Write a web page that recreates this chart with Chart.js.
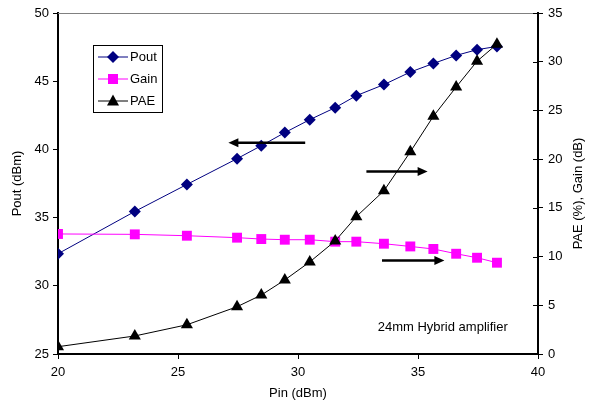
<!DOCTYPE html>
<html>
<head>
<meta charset="utf-8">
<script src="https://cdn.jsdelivr.net/npm/chart.js@4/dist/chart.umd.min.js"></script>
<style>
  body { margin: 0; background: #fff; }
  #wrap { width: 591px; height: 403px; }
</style>
</head>
<body>
<div id="wrap"><canvas id="ampChart" width="591" height="403"></canvas></div>
<script>
// Input power (dBm), shared by all three series
const pinValues = [20, 23.2, 25.37, 27.46, 28.47, 29.45, 30.49, 31.55, 32.43, 33.58, 34.68, 35.64, 36.59, 37.46, 38.29];
const poutValues = [32.35, 35.45, 37.43, 39.32, 40.27, 41.23, 42.18, 43.06, 43.94, 44.75, 45.67, 46.3, 46.89, 47.31, 47.55];
const gainValues = [12.32, 12.28, 12.14, 11.94, 11.8, 11.73, 11.73, 11.53, 11.53, 11.32, 11.04, 10.78, 10.29, 9.88, 9.37];
const paeValues = [0.75, 1.85, 3.0, 4.85, 6.05, 7.6, 9.45, 11.6, 14.1, 16.75, 20.75, 24.4, 27.4, 30.05, 31.8];

const FONT = "'Liberation Sans', Arial, sans-serif";
const rightTitle = "PAE (%), Gain (dB)";

function toPoints(ys) {
  return pinValues.map((x, i) => ({ x: x, y: ys[i] }));
}

// arrows point at the axis each curve belongs to (data units)
const arrows = [
  { from: 30.3, to: 27.1, y: 40.48, axis: "y" },
  { from: 32.85, to: 35.4, y: 18.74, axis: "y1" },
  { from: 33.5, to: 36.1, y: 9.6, axis: "y1" },
];
const note = { text: "24mm Hybrid amplifier", x: 33.32, y: 2.73 };

const extras = {
  id: "extras",
  afterDraw(chart) {
    const ctx = chart.ctx;
    const area = chart.chartArea;
    const xs = chart.scales.x;
    ctx.save();

    // gray top edge of plot
    ctx.strokeStyle = "#808080";
    ctx.lineWidth = 1;
    ctx.beginPath();
    ctx.moveTo(area.left, Math.round(area.top) + 0.5);
    ctx.lineTo(area.right, Math.round(area.top) + 0.5);
    ctx.stroke();

    // inner half of right axis tick marks
    const y1 = chart.scales.y1;
    ctx.strokeStyle = "#000";
    y1.ticks.forEach((t) => {
      const py = Math.round(y1.getPixelForValue(t.value)) + 0.5;
      ctx.beginPath();
      ctx.moveTo(area.right - 5, py);
      ctx.lineTo(area.right, py);
      ctx.stroke();
    });

    // right axis title, reading bottom to top
    ctx.fillStyle = "#000";
    ctx.font = "13px " + FONT;
    ctx.textAlign = "center";
    ctx.textBaseline = "middle";
    ctx.save();
    ctx.translate(578, (area.top + area.bottom) / 2 + 10);
    ctx.rotate(-Math.PI / 2);
    ctx.fillText(rightTitle, 0, 0);
    ctx.restore();

    // arrows
    ctx.lineWidth = 2.5;
    arrows.forEach((a) => {
      const py = chart.scales[a.axis].getPixelForValue(a.y);
      const x0 = xs.getPixelForValue(a.from);
      const x1 = xs.getPixelForValue(a.to);
      const dir = x1 > x0 ? 1 : -1;
      ctx.beginPath();
      ctx.moveTo(x0, py);
      ctx.lineTo(x1 - dir * 8, py);
      ctx.stroke();
      ctx.beginPath();
      ctx.moveTo(x1, py);
      ctx.lineTo(x1 - dir * 10, py - 4.5);
      ctx.lineTo(x1 - dir * 10, py + 4.5);
      ctx.closePath();
      ctx.fill();
    });

    // note text
    ctx.textAlign = "left";
    ctx.fillText(note.text, xs.getPixelForValue(note.x), y1.getPixelForValue(note.y));

    // legend box
    const lx = 93, ly = 45, lw = 69, lh = 67;
    ctx.fillStyle = "#fff";
    ctx.fillRect(lx, ly, lw, lh);
    ctx.strokeStyle = "#000";
    ctx.lineWidth = 1;
    ctx.strokeRect(lx + 0.5, ly + 0.5, lw, lh);
    chart.data.datasets.forEach((ds, i) => {
      const ry = ly + 12 + i * 22;
      ctx.strokeStyle = ds.borderColor;
      ctx.lineWidth = 1;
      ctx.beginPath();
      ctx.moveTo(lx + 5, ry);
      ctx.lineTo(lx + 35, ry);
      ctx.stroke();
      ctx.fillStyle = ds.pointBackgroundColor;
      ctx.beginPath();
      const cx = lx + 20;
      if (ds.pointStyle === "rectRot") {
        ctx.moveTo(cx - 6, ry); ctx.lineTo(cx, ry - 6); ctx.lineTo(cx + 6, ry); ctx.lineTo(cx, ry + 6);
      } else if (ds.pointStyle === "rect") {
        ctx.rect(cx - 5, ry - 5, 10, 10);
      } else {
        ctx.moveTo(cx, ry - 6.5); ctx.lineTo(cx + 6, ry + 4.5); ctx.lineTo(cx - 6, ry + 4.5);
      }
      ctx.closePath();
      ctx.fill();
      ctx.fillStyle = "#000";
      ctx.textAlign = "left";
      ctx.fillText(ds.label, lx + 37, ry);
    });
    ctx.restore();
  },
};

const tickFont = { family: FONT, size: 13 };

new Chart(document.getElementById("ampChart").getContext("2d"), {
  type: "line",
  data: {
    datasets: [
      {
        label: "Pout",
        data: toPoints(poutValues),
        yAxisID: "y",
        borderColor: "#000080",
        borderWidth: 1,
        pointStyle: "rectRot",
        pointRadius: 6,
        pointBorderWidth: 0,
        pointBackgroundColor: "#000080",
        order: 2,
      },
      {
        label: "Gain",
        data: toPoints(gainValues),
        yAxisID: "y1",
        borderColor: "#ff00ff",
        borderWidth: 1,
        pointStyle: "rect",
        pointRadius: 7,
        pointBorderWidth: 0,
        pointBackgroundColor: "#ff00ff",
        order: 1,
      },
      {
        label: "PAE",
        data: toPoints(paeValues),
        yAxisID: "y1",
        borderColor: "#000000",
        borderWidth: 1,
        pointStyle: "triangle",
        pointRadius: 7,
        pointBorderWidth: 0,
        pointBackgroundColor: "#000000",
        order: 0,
      },
    ],
  },
  options: {
    responsive: false,
    animation: false,
    layout: { padding: { top: 13, left: 0, right: 0, bottom: 0 } },
    plugins: { legend: { display: false }, tooltip: { enabled: false } },
    elements: { line: { tension: 0, fill: false } },
    scales: {
      x: {
        type: "linear",
        min: 20,
        max: 40,
        ticks: { stepSize: 5, color: "#000", font: tickFont, padding: 6, maxRotation: 0 },
        grid: { drawOnChartArea: false, tickLength: 5, color: "#000" },
        border: { color: "#000", width: 2 },
        title: { display: true, text: "Pin (dBm)", color: "#000", font: tickFont, padding: { top: 0, bottom: 2 } },
        afterFit: (s) => { s.height = 49; },
      },
      y: {
        position: "left",
        min: 25,
        max: 50,
        ticks: { stepSize: 5, color: "#000", font: tickFont, padding: 4 },
        grid: { drawOnChartArea: false, tickLength: 5, color: "#000" },
        border: { color: "#000", width: 2 },
        title: { display: true, text: "Pout (dBm)", color: "#000", font: tickFont, padding: { top: 10, bottom: 0 } },
        afterFit: (s) => { s.width = 58; },
      },
      y1: {
        position: "right",
        min: 0,
        max: 35,
        ticks: { stepSize: 5, color: "#000", font: tickFont, padding: 5 },
        grid: { drawOnChartArea: false, tickLength: 5, color: "#000" },
        border: { color: "#000", width: 2 },
        afterFit: (s) => { s.width = 53; },
      },
    },
  },
  plugins: [extras],
});
</script>
</body>
</html>
